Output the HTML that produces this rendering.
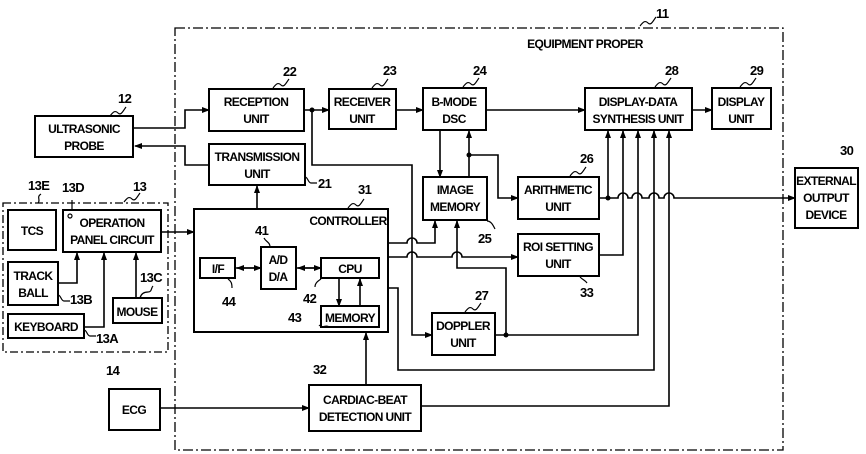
<!DOCTYPE html>
<html><head><meta charset="utf-8"><style>
html,body{margin:0;padding:0;background:#fff}
svg{display:block}
text{font-family:"Liberation Sans",sans-serif;font-weight:bold;font-size:12px;fill:#000;letter-spacing:-0.6px}
.n{font-size:13px}
</style></head><body>
<svg width="866" height="454" viewBox="0 0 866 454" xmlns="http://www.w3.org/2000/svg">
<defs><marker id="a" markerWidth="8" markerHeight="6" refX="7" refY="3" orient="auto" markerUnits="userSpaceOnUse"><path d="M0,0L8,3L0,6z" fill="#000"/></marker></defs>
<g fill="none" stroke="#000" stroke-width="1.6">
<rect x="175" y="28" width="608" height="422" stroke-dasharray="10,3,2,3" stroke-width="1.3"/>
<rect x="3" y="203" width="165" height="149" stroke-dasharray="8,3,2,3" stroke-width="1.3"/>
<rect x="35" y="116" width="98" height="41" stroke-width="2"/>
<rect x="209" y="89" width="95" height="42" stroke-width="2"/>
<rect x="209" y="144" width="96" height="41" stroke-width="2"/>
<rect x="329" y="89" width="67" height="40" stroke-width="2"/>
<rect x="423" y="88" width="63" height="42" stroke-width="2"/>
<rect x="585" y="88" width="107" height="42" stroke-width="2"/>
<rect x="712" y="88" width="59" height="41" stroke-width="2"/>
<rect x="423" y="177" width="64" height="43" stroke-width="2"/>
<rect x="518" y="177" width="81" height="42" stroke-width="2"/>
<rect x="518" y="234" width="81" height="42" stroke-width="2"/>
<rect x="432" y="313" width="63" height="42" stroke-width="2"/>
<rect x="194" y="209" width="194" height="123" stroke-width="2"/>
<rect x="200" y="258" width="35" height="20" stroke-width="2"/>
<rect x="261" y="247" width="35" height="42" stroke-width="2"/>
<rect x="321" y="258" width="58" height="20" stroke-width="2"/>
<rect x="321" y="306" width="58" height="21" stroke-width="2"/>
<rect x="63" y="210" width="98" height="42" stroke-width="2"/>
<rect x="8" y="210" width="48" height="40" stroke-width="2"/>
<rect x="8" y="262" width="50" height="43" stroke-width="2"/>
<rect x="113" y="298" width="49" height="25" stroke-width="2"/>
<rect x="8" y="314" width="76" height="24" stroke-width="2"/>
<rect x="109" y="389" width="51" height="41" stroke-width="2"/>
<rect x="309" y="385" width="112" height="46" stroke-width="2"/>
<rect x="795" y="168" width="63" height="60" stroke-width="2"/>

<path d="M133,128H185V110H209" marker-end="url(#a)"/>
<path d="M209,165H185V146H135" marker-end="url(#a)"/>
<path d="M304,110H329" marker-end="url(#a)"/>
<path d="M396,110H423" marker-end="url(#a)"/>
<path d="M486,110H585" marker-end="url(#a)"/>
<path d="M692,110H712" marker-end="url(#a)"/>
<path d="M312,110V165H412V335H432" marker-end="url(#a)"/>
<path d="M440,130V177" marker-end="url(#a)"/>
<path d="M469,177V131" marker-end="url(#a)"/>
<path d="M469,155H498V198H518" marker-end="url(#a)"/>
<path d="M599,198H618a5,5 0 0 1 10,0H632a5,5 0 0 1 10,0H649a5,5 0 0 1 10,0H664a5,5 0 0 1 10,0H795" marker-end="url(#a)"/>
<path d="M608,198V131" marker-end="url(#a)"/>
<path d="M599,255H623V131" marker-end="url(#a)"/>
<path d="M495,335H638V131" marker-end="url(#a)"/>
<path d="M506,335V268H457V221" marker-end="url(#a)"/>
<path d="M388,243H407a5,5 0 0 1 10,0H435V221" marker-end="url(#a)"/>
<path d="M388,257H407a5,5 0 0 1 10,0H452a5,5 0 0 1 10,0H518" marker-end="url(#a)"/>
<path d="M388,288H398V370H654V131" marker-end="url(#a)"/>
<path d="M160,408H309" marker-end="url(#a)"/>
<path d="M421,406H669V131" marker-end="url(#a)"/>
<path d="M366,385V333" marker-end="url(#a)"/>
<path d="M257,209V186" marker-end="url(#a)"/>
<path d="M161,232H194" marker-end="url(#a)"/>
<path d="M58,283H77V253" marker-end="url(#a)"/>
<path d="M84,327H104V253" marker-end="url(#a)"/>
<path d="M136,298V253" marker-end="url(#a)"/>
<path d="M235,268H261" marker-end="url(#a)"/><path d="M261,268H237" marker-end="url(#a)"/>
<path d="M296,268H321" marker-end="url(#a)"/><path d="M321,268H298" marker-end="url(#a)"/>
<path d="M339,278V306" marker-end="url(#a)"/>
<path d="M360,306V279" marker-end="url(#a)"/>
</g>
<g fill="#000"><circle cx="312" cy="110" r="2.5"/><circle cx="469" cy="155" r="2.5"/><circle cx="608" cy="198" r="2.5"/><circle cx="506" cy="335" r="2.5"/></g>
<circle cx="70" cy="216" r="2" fill="none" stroke="#000" stroke-width="1.2"/>
<g fill="none" stroke="#000" stroke-width="1.2">
<path d="M110,116c3,-4 5,-6 8,-3s5,-2 8,-6"/>
<path d="M273,88c3,-4 5,-6 8,-3s5,-2 8,-6"/>
<path d="M372,88c3,-4 5,-6 8,-3s5,-2 8,-6"/>
<path d="M463,87c3,-4 5,-6 8,-3s5,-2 8,-6"/>
<path d="M655,87c3,-4 5,-6 8,-3s5,-2 8,-6"/>
<path d="M740,87c3,-4 5,-6 8,-3s5,-2 8,-6"/>
<path d="M570,176c3,-4 5,-6 8,-3s5,-2 8,-6"/>
<path d="M465,312c3,-4 5,-6 8,-3s5,-2 8,-6"/>
<path d="M348,208c3,-4 5,-6 8,-3s5,-2 8,-6"/>
<path d="M124,202c3,-4 5,-6 8,-3s5,-2 8,-6"/>
<path d="M640,26c3,-4 5,-6 8,-3s5,-2 8,-6"/>
<path d="M305,177c3,0 3,6 6,6s3,0 6,0"/>
<path d="M58,295c3,0 3,6 6,6h6"/>
<path d="M84,330c3,0 3,6 6,6h6"/>
<path d="M140,298c1,-4 4,-6 8,-6s3,-4 5,-6"/>
<path d="M487,221c4,0 6,4 8,8"/>
<path d="M580,277c3,3 5,3 7,6"/>
<path d="M329,327c-3,-3 -6,2 -10,-2"/>
<path d="M38,203c3,-3 -2,-6 3,-9"/>
<path d="M72,210v-10"/>
<path d="M270,247c0,-5 -4,-5 -6,-9"/>
<path d="M321,279c-3,2 -6,4 -6,8"/>
<path d="M228,279c3,2 4,4 4,9"/>
<path d="M411,302c2,6 3,8 4,10" stroke="none"/>
</g>
<g text-anchor="middle">
<text x="84" y="133">ULTRASONIC</text><text x="84" y="150">PROBE</text>
<text x="256" y="106">RECEPTION</text><text x="256" y="123">UNIT</text>
<text x="257" y="161">TRANSMISSION</text><text x="257" y="178">UNIT</text>
<text x="362" y="106">RECEIVER</text><text x="362" y="123">UNIT</text>
<text x="454" y="106">B-MODE</text><text x="454" y="123">DSC</text>
<text x="638" y="106">DISPLAY-DATA</text><text x="638" y="123">SYNTHESIS UNIT</text>
<text x="741" y="106">DISPLAY</text><text x="741" y="123">UNIT</text>
<text x="455" y="194">IMAGE</text><text x="455" y="211">MEMORY</text>
<text x="558" y="194">ARITHMETIC</text><text x="558" y="211">UNIT</text>
<text x="558" y="251">ROI SETTING</text><text x="558" y="268">UNIT</text>
<text x="463" y="330">DOPPLER</text><text x="463" y="347">UNIT</text>
<text x="218" y="273">I/F</text>
<text x="278" y="264">A/D</text><text x="278" y="281">D/A</text>
<text x="350" y="273">CPU</text>
<text x="350" y="322">MEMORY</text>
<text x="112" y="227">OPERATION</text><text x="112" y="244">PANEL CIRCUIT</text>
<text x="32" y="235">TCS</text>
<text x="33" y="280">TRACK</text><text x="33" y="297">BALL</text>
<text x="137" y="316">MOUSE</text>
<text x="46" y="331">KEYBOARD</text>
<text x="134" y="414">ECG</text>
<text x="365" y="404">CARDIAC-BEAT</text><text x="365" y="421">DETECTION UNIT</text>
<text x="826" y="185">EXTERNAL</text><text x="826" y="202">OUTPUT</text><text x="826" y="219">DEVICE</text>
<text x="585" y="48">EQUIPMENT PROPER</text>
<text x="348" y="225">CONTROLLER</text>
</g>
<g class="n">
<text class="n" x="118" y="103">12</text>
<text class="n" x="283" y="76">22</text>
<text class="n" x="383" y="75">23</text>
<text class="n" x="473" y="75">24</text>
<text class="n" x="665" y="75">28</text>
<text class="n" x="750" y="75">29</text>
<text class="n" x="656" y="18">11</text>
<text class="n" x="580" y="163">26</text>
<text class="n" x="475" y="300">27</text>
<text class="n" x="478" y="243">25</text>
<text class="n" x="580" y="297">33</text>
<text class="n" x="358" y="194">31</text>
<text class="n" x="318" y="188">21</text>
<text class="n" x="133" y="191">13</text>
<text class="n" x="62" y="192">13D</text>
<text class="n" x="28" y="190">13E</text>
<text class="n" x="70" y="304">13B</text>
<text class="n" x="140" y="282">13C</text>
<text class="n" x="96" y="343">13A</text>
<text class="n" x="255" y="235">41</text>
<text class="n" x="303" y="303">42</text>
<text class="n" x="288" y="322">43</text>
<text class="n" x="222" y="306">44</text>
<text class="n" x="106" y="375">14</text>
<text class="n" x="313" y="374">32</text>
<text class="n" x="840" y="155">30</text>
</g>
</svg>
</body></html>
